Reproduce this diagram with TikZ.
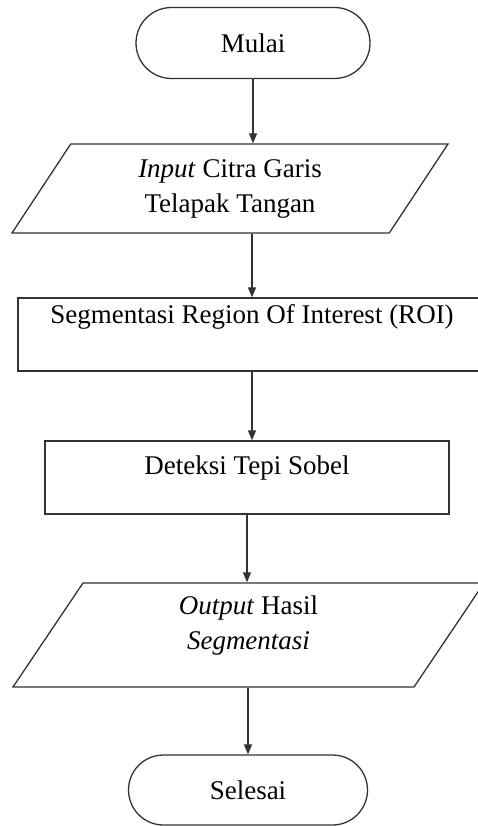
\documentclass[tikz,border=0pt]{standalone}
\usepackage{fontspec}
\setmainfont{Liberation Serif}
\usetikzlibrary{positioning,shapes.misc,shapes.geometric,arrows.meta}

\begin{document}
\begin{tikzpicture}[x=1pt,y=-1pt,>={Triangle[length=10pt,width=8pt]},
  every node/.style={font=\fontsize{27}{35}\selectfont},
  flow/.style={draw=black!80,line width=1.3pt},
  terminal/.style={flow,rounded rectangle,minimum height=71pt,inner sep=0pt},
  io/.style={flow,trapezium,trapezium stretches body,align=center,inner sep=0pt},
  process/.style={flow,rectangle,minimum height=73pt,inner sep=0pt,text height=19pt},
  link/.style={->,draw=black!80,line width=1.3pt}]

\useasboundingbox (0,0) rectangle (477,826);

\node[terminal,minimum width=234pt] (mulai) at (253,43) {Mulai};
\node[io,minimum width=436pt,minimum height=89pt,trapezium left angle=45,trapezium right angle=135] (citra) at (230,188.5) {\textit{Input} Citra Garis\\Telapak Tangan};
\node[process,minimum width=468pt,text depth=42pt] (roi) at (252,334.5) {Segmentasi Region Of Interest (ROI)};
\node[process,minimum width=404pt,text depth=26pt] (sobel) at (247,477.5) {Deteksi Tepi Sobel};
\node[io,minimum width=471pt,minimum height=104pt,trapezium left angle=48,trapezium right angle=132,text depth=24pt] (hasil) at (248.5,635) {\textit{Output} Hasil\\\textit{Segmentasi}};
\node[terminal,minimum width=239pt,minimum height=70pt] (selesai) at (248,790) {Selesai};

\draw[link] (mulai.south) -- (mulai.south |- citra.north);
\draw[link] (roi.north |- citra.south) -- (roi.north);
\draw[link] (roi.south) -- (roi.south |- sobel.north);
\draw[link] (sobel.south) -- (sobel.south |- hasil.north);
\draw[link] (hasil.south -| selesai.north) -- (selesai.north);

\end{tikzpicture}
\end{document}
